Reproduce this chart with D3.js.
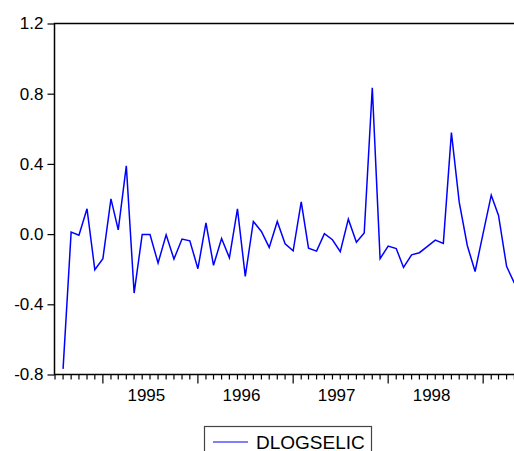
<!DOCTYPE html>
<html>
<head>
<meta charset="utf-8">
<script src="https://cdn.jsdelivr.net/npm/d3@7"></script>
<style>
  html, body { margin: 0; padding: 0; background: #fff; }
  svg { display: block; }
  text { font-family: "Liberation Sans", Arial, sans-serif; fill: #000; }
</style>
</head>
<body>
<svg id="chart" width="514" height="451"></svg>
<script>
// Monthly first difference of log SELIC, 1994M08 - 1999M05
const seriesName = "DLOGSELIC";
const firstPeriod = [1994, 8];   // year, month of first observation
const dlogselic = [
  -0.768, 0.011, -0.006, 0.144, -0.203,
  -0.140, 0.201, 0.024, 0.389, -0.336, -0.002, -0.002, -0.165, -0.004, -0.142, -0.028, -0.038,
  -0.197, 0.064, -0.178, -0.025, -0.135, 0.144, -0.241, 0.072, 0.015, -0.076, 0.072, -0.055,
  -0.095, 0.184, -0.080, -0.097, 0.002, -0.032, -0.100, 0.085, -0.046, 0.006, 0.834, -0.140,
  -0.068, -0.082, -0.190, -0.118, -0.106, -0.070, -0.034, -0.053, 0.578, 0.182, -0.065, -0.213,
  0.006, 0.222, 0.106, -0.184, -0.279
];
const yTicks = [-0.8, -0.4, 0.0, 0.4, 0.8, 1.2];
const yearLabels = ["1995", "1996", "1997", "1998"];

const svg = d3.select("#chart");

const periods = dlogselic.map((_, i) => new Date(Date.UTC(firstPeriod[0], firstPeriod[1] - 1 + i, 1)));
const data = periods.map((d, i) => ({ date: d, value: dlogselic[i] }));

// axis runs from one month before the first observation to the last one
const xStart = new Date(Date.UTC(firstPeriod[0], firstPeriod[1] - 2, 1));
const xEnd = periods[periods.length - 1];

const plot = { left: 54.5, top: 23.5, right: 514.4, bottom: 374.5 };

const x = d3.scaleUtc().domain([xStart, xEnd]).range([55, plot.right]);
const y = d3.scaleLinear().domain([-0.8, 1.2]).range([plot.bottom, plot.top]);

// frame
svg.append("path")
  .attr("d", `M${plot.right},${plot.top}H${plot.left}V${plot.bottom}H${plot.right}`)
  .attr("fill", "none").attr("stroke", "#000").attr("stroke-width", 1.5);

// y axis ticks and labels (plain hyphen for negatives)
const yAxis = d3.axisLeft(y).tickValues(yTicks).tickFormat(d => d.toFixed(1))
  .tickSize(7).tickPadding(4);
const yg = svg.append("g").attr("transform", `translate(${plot.left},0)`).call(yAxis);
yg.select(".domain").remove();
yg.selectAll(".tick line").attr("stroke", "#000").attr("stroke-width", 1.2);
yg.selectAll(".tick text").style("font-size", "17px")
  .style("font-family", "'Liberation Sans', Arial, sans-serif").attr("fill", "#000");

// x axis: monthly minor ticks, longer ticks at each January
const months = d3.utcMonth.range(xStart, d3.utcMonth.offset(xEnd, 1));
const xg = svg.append("g");
xg.selectAll("line.m").data(months).join("line")
  .attr("x1", d => x(d)).attr("x2", d => x(d))
  .attr("y1", plot.bottom)
  .attr("y2", d => plot.bottom + (d.getUTCMonth() === 0 ? 9 : 5))
  .attr("stroke", "#000").attr("stroke-width", 1.2);

xg.selectAll("text").data(yearLabels).join("text")
  .attr("x", d => (x(new Date(Date.UTC(+d, 0, 1))) + x(new Date(Date.UTC(+d, 11, 1)))) / 2)
  .attr("y", 401)
  .attr("text-anchor", "middle")
  .style("font-size", "17px")
  .text(d => d);

// series line
const line = d3.line().x(d => x(d.date)).y(d => y(d.value));
svg.append("path").datum(data)
  .attr("d", line)
  .attr("fill", "none").attr("stroke", "#0000ff").attr("stroke-width", 1.5)
  .attr("stroke-linejoin", "miter");

// legend
const lg = svg.append("g");
lg.append("rect").attr("x", 204.5).attr("y", 426.5).attr("width", 167).attr("height", 40)
  .attr("fill", "#fff").attr("stroke", "#444").attr("stroke-width", 1.2);
lg.append("line").attr("x1", 213).attr("x2", 248).attr("y1", 442).attr("y2", 442)
  .attr("stroke", "#0000ff").attr("stroke-width", 1.2);
lg.append("text").attr("x", 256).attr("y", 448.5).style("font-size", "19px").text(seriesName);
</script>
</body>
</html>
